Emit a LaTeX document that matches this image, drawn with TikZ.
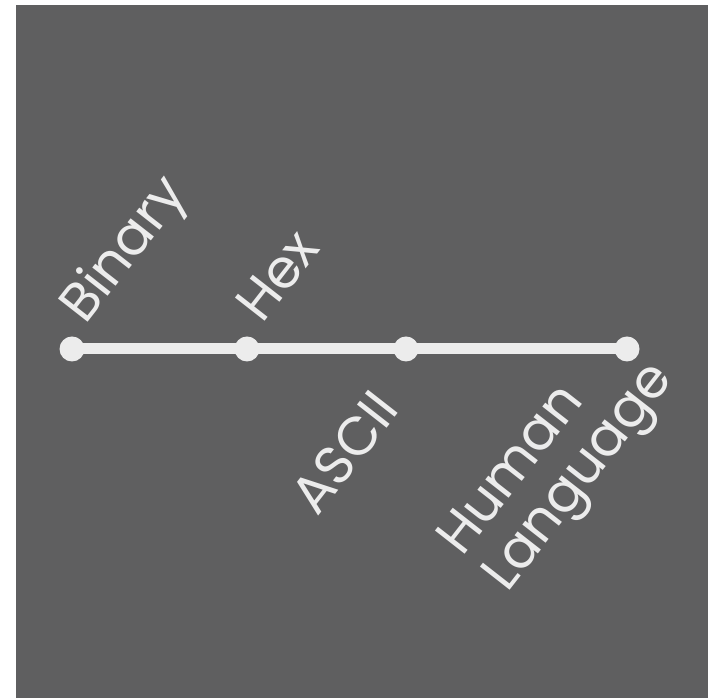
\documentclass[tikz,border=0pt]{standalone}
\usepackage{fontspec}
\setmainfont{Poppins}
\definecolor{bggray}{RGB}{95,95,96}
\definecolor{linew}{RGB}{236,236,236}
\begin{document}
\begin{tikzpicture}[x=1pt,y=1pt,
  dotnode/.style={circle,fill=linew,inner sep=0pt,minimum size=25pt},
  lbl/.style={text=linew,font=\fontsize{54}{58}\selectfont,inner sep=0pt,anchor=base west,rotate=52}]
\fill[white] (0,0) rectangle (718,698);
\useasboundingbox (0,0) rectangle (718,698);
\fill[bggray] (16,0) rectangle (708,693);
\node[dotnode] (d1) at (72,349) {};
\node[dotnode] (d2) at (247,349) {};
\node[dotnode] (d3) at (406,349) {};
\node[dotnode] (d4) at (627,349) {};
\draw[linew,line width=11pt] (d1.center) -- (d4.center);
\node[lbl] (binary) at (85,372) {Binary};
\node[lbl] (hex) at (262,373) {Hex};
\node[lbl] (ascii) at (317,180) {ASCII};
\node[lbl] (human) at (462,140) {Human};
\node[lbl] (lang) at (507,104) {Language};
\end{tikzpicture}
\end{document}
